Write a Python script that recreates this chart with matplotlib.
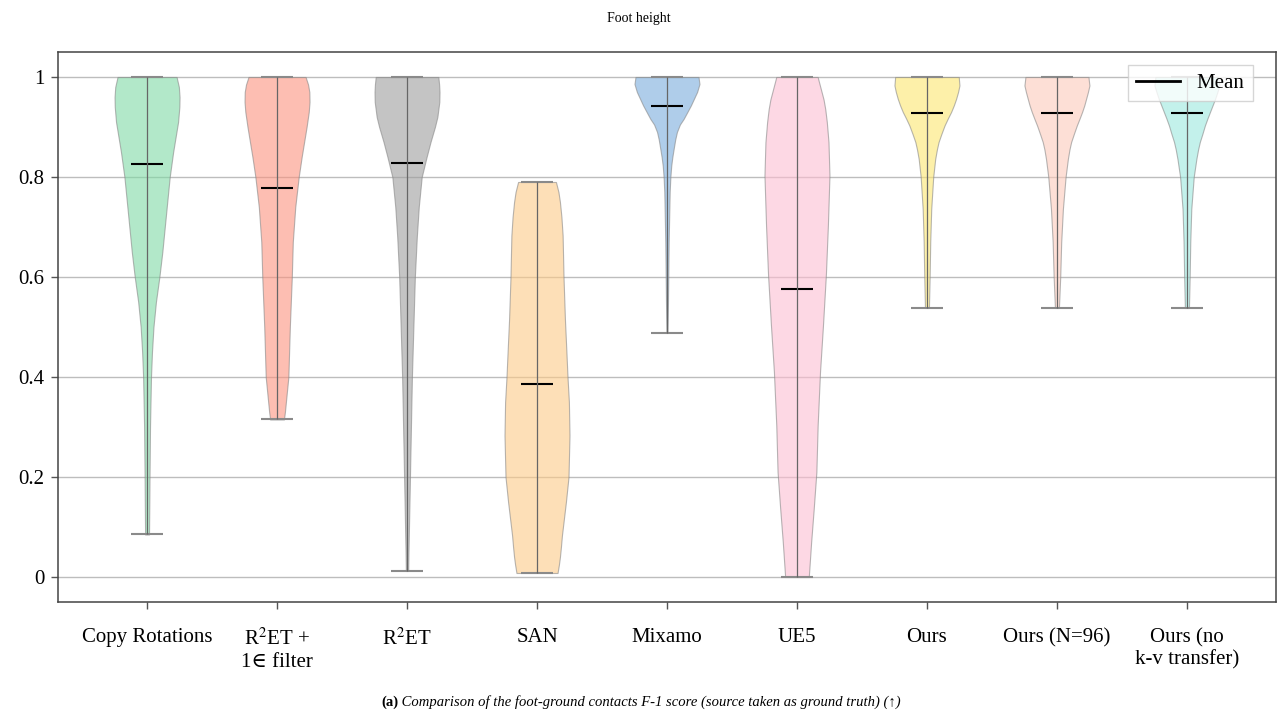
import numpy as np
import matplotlib
matplotlib.use('Agg')
import matplotlib.pyplot as plt

plt.rcParams['font.family'] = ['Liberation Serif', 'DejaVu Serif']
plt.rcParams['mathtext.fontset'] = 'stix'

#%% Data

methods = ['Copy Rotations', 'R$^2$ET +\n1\u2208 filter', 'R$^2$ET', 'SAN', 'Mixamo',
           'UE5', 'Ours', 'Ours (N=96)', 'Ours (no\nk-v transfer)']
means = [0.825, 0.777, 0.827, 0.386, 0.942, 0.576, 0.927, 0.927, 0.927]
mins = [0.085, 0.315, 0.012, 0.008, 0.488, 0.0, 0.538, 0.538, 0.538]
maxs = [1.0, 1.0, 1.0, 0.79, 1.0, 1.0, 1.0, 1.0, 1.0]

# density profiles (score level, relative half width)
copy_y = [0.085, 0.15, 0.2, 0.3, 0.4, 0.45, 0.5, 0.55, 0.6, 0.65, 0.7, 0.75, 0.8, 0.85, 0.88, 0.91,
          0.94, 0.96, 0.98, 1.0]
copy_w = [2, 2.3, 2.5, 3, 4, 5, 6.5, 9, 12.5, 15.5, 18, 20.5, 23, 26.5, 29, 31.5, 32.8, 33, 32.3, 30]
r2et_filt_y = [0.315, 0.33, 0.35, 0.4, 0.5, 0.6, 0.67, 0.74, 0.8, 0.84, 0.87, 0.9, 0.93, 0.95, 0.97,
               0.985, 1.0]
r2et_filt_w = [7, 8, 9, 11.5, 13, 15, 16, 18.5, 22, 25, 27.5, 30, 32.2, 33, 32.8, 31.5, 29]
r2et_y = [0.012, 0.05, 0.1, 0.2, 0.3, 0.4, 0.5, 0.6, 0.68, 0.74, 0.8, 0.84, 0.87, 0.9, 0.92,
          0.95, 0.97, 0.985, 1.0]
r2et_w = [1.2, 1.5, 2, 3, 4, 5, 6.5, 8, 10, 12, 15, 20, 24, 28.5, 31, 33, 33.2, 32.8, 32]
san_y = [0.008, 0.025, 0.04, 0.06, 0.083, 0.15, 0.2, 0.283, 0.35, 0.4, 0.45, 0.516, 0.6, 0.683,
         0.72, 0.75, 0.77, 0.79]
san_w = [20.6, 22, 23, 24, 25, 29, 31.6, 32.6, 32, 30.6, 29.5, 28, 26.6, 25.7, 24.5, 23, 21.5, 19]
mixamo_y = [0.488, 0.55, 0.6, 0.67, 0.72, 0.77, 0.8, 0.823, 0.84, 0.856, 0.875, 0.89, 0.905, 0.916,
            0.93, 0.943, 0.958, 0.97, 0.986, 1.0]
mixamo_w = [0.5, 1.0, 1.3, 1.7, 2.2, 2.7, 3.4, 4.3, 5.4, 6.7, 8.3, 10, 13, 16.7, 20.5, 24, 27.5,
            30.3, 32.7, 31.7]
ue5_y = [0.0, 0.07, 0.136, 0.21, 0.303, 0.41, 0.503, 0.606, 0.703, 0.803, 0.87, 0.91, 0.936, 0.955,
         0.97, 0.985, 1.0]
ue5_w = [12, 14.4, 17, 19.7, 21, 23.4, 26.4, 29.4, 31.4, 33, 32, 30.3, 28.7, 27, 25, 23, 21]
ours_y = [0.538, 0.6, 0.67, 0.736, 0.8, 0.836, 0.855, 0.87, 0.886, 0.903, 0.917, 0.93, 0.943, 0.956,
          0.97, 0.983, 1.0]
ours_w = [2, 2.7, 3.3, 4.3, 6.3, 8.3, 10, 11.7, 14.5, 17.7, 21, 24.3, 27, 29.3, 31.3, 32.7, 32]
ours96_y = [0.538, 0.6, 0.67, 0.736, 0.8, 0.836, 0.855, 0.87, 0.886, 0.903, 0.917, 0.93, 0.943,
            0.956, 0.97, 0.983, 1.0]
ours96_w = [2, 3.3, 4.3, 6, 8.7, 11, 12.6, 14.3, 17, 20, 22.8, 25.3, 27.5, 29.3, 31.2, 32.7, 31.7]
ours_nokv_y = [0.538, 0.6, 0.67, 0.736, 0.8, 0.836, 0.855, 0.87, 0.886, 0.903, 0.917, 0.93, 0.943,
               0.956, 0.97, 0.983, 1.0]
ours_nokv_w = [2, 2.7, 3.3, 4.3, 6.7, 9.3, 11, 12.7, 15.2, 17.7, 20.2, 22.7, 25.2, 27.7, 30, 32, 31]

colors = ['#7fdaa5', '#fc937f', '#9e9e9e', '#fdca87', '#7badDC',
          '#fdbed2', '#fde671', '#fdcbbb', '#9be9de']

profiles_y = [copy_y, r2et_filt_y, r2et_y, san_y, mixamo_y, ue5_y, ours_y, ours96_y, ours_nokv_y]
profiles_w = [copy_w, r2et_filt_w, r2et_w, san_w, mixamo_w, ue5_w, ours_w, ours96_w, ours_nokv_w]

#%% Build violin stats

vpstats = []
for i in range(len(methods)):
    vpstats.append({'coords': np.array(profiles_y[i]),
                    'vals': np.array(profiles_w[i], dtype=float),
                    'mean': means[i],
                    'median': None,
                    'min': mins[i],
                    'max': maxs[i]})
positions = np.arange(1, len(methods) + 1)

#%% Figure

fig = plt.figure(figsize=(12.78, 7.2), dpi=100)
ax = fig.add_axes([0.0454, 0.1639, 0.953, 0.7639])

parts = ax.violin(vpstats, positions=positions, widths=0.5,
                  showmeans=True, showextrema=True)
for body, col in zip(parts['bodies'], colors):
    body.set_facecolor(col)
    body.set_edgecolor('#888888')
    body.set_linewidth(0.8)
    body.set_alpha(0.6)
parts['cmeans'].set_color('black')
parts['cmeans'].set_linewidth(1.5)
parts['cbars'].set_color('#666666')
parts['cbars'].set_linewidth(0.9)
for key in ['cmins', 'cmaxes']:
    parts[key].set_color('#8a8a8a')
    parts[key].set_linewidth(1.5)

# axes styling
ax.set_xlim(1 - 0.685, len(methods) + 0.685)
ax.set_ylim(-0.05, 1.05)
ax.set_xticks(positions)
ax.set_xticklabels(methods, fontsize=15)
ax.set_yticks([0, 0.2, 0.4, 0.6, 0.8, 1.0])
ax.set_yticklabels(['0', '0.2', '0.4', '0.6', '0.8', '1'], fontsize=15)
ax.yaxis.grid(True, color='#bdbdbd', linewidth=1.0)
ax.set_axisbelow(True)
for spine in ax.spines.values():
    spine.set_color('#444444')
    spine.set_linewidth(1.1)
ax.tick_params(axis='both', color='#555555', length=5, width=1.0)
ax.tick_params(axis='x', pad=14)
ax.tick_params(axis='y', pad=5)

# legend
ax.plot([], [], color='black', linewidth=2.0, label='Mean')
ax.legend(loc='upper right', bbox_to_anchor=(0.981, 0.976), borderaxespad=0,
          fontsize=15, fancybox=False, framealpha=0.8, edgecolor='#cccccc',
          handlelength=2.1, borderpad=0.4)

# title and caption
fig.text(0.5, 0.984, 'Foot height', ha='center', va='top', fontsize=10)
bold = fig.text(381 / 1278, 0.02, '(a)', ha='left', va='baseline',
                fontsize=10.5, fontweight='bold')
ax.annotate(' Comparison of the foot-ground contacts F-1 score (source taken as ground truth) (\u2191)',
            xy=(1, 0), xycoords=bold, va='bottom', ha='left',
            fontsize=10.5, fontstyle='italic')

fig.savefig('out.png', dpi=100)
plt.close()
